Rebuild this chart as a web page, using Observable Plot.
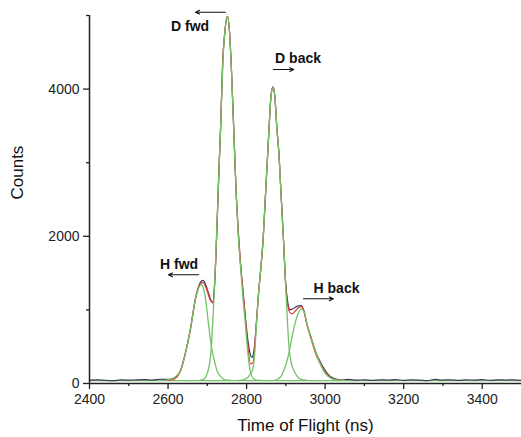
<!DOCTYPE html>
<html>
<head>
<meta charset="utf-8">
<script src="https://cdn.jsdelivr.net/npm/d3@7"></script>
<script src="https://cdn.jsdelivr.net/npm/@observablehq/plot@0.6"></script>
<style>
  html, body { margin: 0; padding: 0; background: #fff; }
  #chart { width: 521px; height: 437px; }
</style>
</head>
<body>
<div id="chart"></div>
<script>
// Measured spectrum (time of flight, ns) and counts
const dataT = [2400,2420,2440,2460,2480,2500,2520,2540,2560,2580,2600,2610,2620,2632,2644,2657,2670,2680,2689,2696,2703,2709,2714,2718,2722,2726,2730,2734,2739,2745,2751,2756,2761,2767,2773,2779,2785,2791,2797,2803,2808,2813,2818,2824,2830,2836,2842,2847,2852,2857,2862,2867,2872,2877,2882,2888,2894,2899,2905,2911,2918,2925,2932,2939,2946,2954,2961,2968,2976,2988,3000,3010,3020,3031,3045,3060,3080,3100,3120,3140,3160,3180,3200,3220,3240,3260,3280,3300,3320,3340,3360,3380,3400,3420,3440,3460,3480,3500];
const dataC = [45,50,42,38,48,45,50,52,45,58,55,65,90,180,410,740,1160,1350,1400,1340,1230,1130,1095,1300,1750,2350,2950,3500,4350,4800,4990,4820,4320,3500,2650,2050,1600,1250,900,600,430,355,420,750,1200,1550,1950,2450,2950,3450,3900,4030,3900,3480,3150,2550,1950,1400,1100,1000,1015,1040,1055,1060,990,800,680,560,430,290,180,110,75,55,48,55,45,50,42,50,46,54,42,50,46,40,55,46,50,42,50,45,54,42,50,46,50,42];

// Cumulative fit (red)
const fitT = [2600,2615,2632,2644,2657,2670,2680,2688,2696,2703,2709,2714,2718,2722,2726,2730,2734,2739,2745,2751,2756,2761,2767,2773,2779,2785,2791,2797,2803,2810,2816,2824,2830,2836,2842,2847,2852,2857,2862,2867,2872,2877,2882,2888,2894,2899,2905,2911,2916,2922,2930,2939,2946,2954,2961,2968,2976,2988,3000,3010,3020,3031,3045];
const fitC = [42,55,178,405,740,1150,1330,1375,1310,1200,1120,1110,1300,1750,2350,2950,3500,4350,4800,4990,4820,4320,3500,2650,2050,1600,1240,870,520,267,280,750,1200,1550,1950,2450,2950,3450,3900,4030,3900,3480,3150,2550,1950,1390,1060,960,947,975,1020,1045,985,790,665,540,405,265,150,95,62,48,42];

// Fitted peak components (green)
const hFwdT = [2590,2605,2620,2632,2644,2657,2670,2684,2694,2704,2710,2717,2725,2733,2745,2760];
const hFwdC = [42,55,95,177,403,740,1150,1345,1200,765,520,330,170,100,50,42];
const dFwdT = [2680,2690,2697,2705,2710,2714,2717,2721,2726,2730,2735,2740,2745,2751,2756,2761,2767,2773,2779,2785,2791,2797,2803,2810,2817,2826,2840];
const dFwdC = [42,55,100,250,470,850,1150,1670,2350,2950,3650,4400,4800,4980,4810,4310,3490,2640,2000,1550,1150,800,430,150,70,46,42];
const dBackT = [2780,2792,2800,2806,2810,2815,2820,2826,2831,2836,2842,2847,2852,2857,2862,2867,2872,2877,2882,2888,2894,2899,2903,2908,2913,2921,2930,2940,2955];
const dBackC = [42,50,70,100,133,180,360,880,1250,1550,1950,2450,2950,3450,3900,4020,3900,3470,3140,2540,1940,1390,950,500,300,170,90,55,42];
const hBackT = [2870,2880,2888,2895,2902,2908,2913,2918,2925,2932,2940,2947,2955,2963,2970,2978,2988,2998,3008,3020,3035,3050];
const hBackC = [42,60,100,180,290,420,560,690,850,960,1010,960,780,650,530,400,260,155,95,60,46,42];
const baseT = [2400,3500];
const baseC = [40,40];

// Axis ticks
const xMajor = [2400,2600,2800,3000,3200,3400];
const xMinor = [2500,2700,2900,3100,3300];
const yMajor = [0,2000,4000];
const yMinor = [1000,3000,5000];

// Annotations
const noteText = ["D fwd","D back","H fwd","H back"];
const noteX = [2656,2931,2628,3029];
const noteY = [4857,4416,1617,1291];
const arrowX1 = [2746,2868,2678,2945];
const arrowX2 = [2670,2920,2601,3021];
const arrowY = [5045,4266,1477,1151];

const toRows = (T, C) => T.map((t, i) => ({t, c: C[i]}));
const notes = noteText.map((s, i) => ({s, x: noteX[i], y: noteY[i]}));
const arrows = arrowX1.map((x1, i) => ({x1, x2: arrowX2[i], y: arrowY[i]}));

const green = "#74c267";
const comps = [[hFwdT,hFwdC],[dFwdT,dFwdC],[dBackT,dBackC],[hBackT,hBackC]];

const chart = Plot.plot({
  width: 521,
  height: 437,
  marginLeft: 89,
  marginRight: 0,
  marginTop: 15,
  marginBottom: 54,
  style: {fontFamily: "'Liberation Sans', Arial, sans-serif", fontSize: "14px", color: "#222", background: "#fff"},
  x: {domain: [2400, 3500]},
  y: {domain: [0, 5000]},
  marks: [
    Plot.line(toRows(baseT, baseC), {x: "t", y: "c", stroke: green, strokeWidth: 1.3}),
    Plot.line(toRows(dataT, dataC), {x: "t", y: "c", stroke: "#3b3b55", strokeWidth: 1.2, curve: "monotone-x"}),
    Plot.line(toRows(fitT, fitC), {x: "t", y: "c", stroke: "#e23b3b", strokeWidth: 1.2, curve: "monotone-x"}),
    ...comps.map(([T, C]) => Plot.line(toRows(T, C), {x: "t", y: "c", stroke: green, strokeWidth: 1.3, curve: "monotone-x"})),
    Plot.ruleX([2400], {y1: 0, y2: 5000, stroke: "#222", strokeWidth: 1.5}),
    Plot.ruleY([0], {x1: 2400, x2: 3500, stroke: "#222", strokeWidth: 1.5}),
    Plot.axisX({ticks: xMajor, tickSize: 6, tickPadding: 5, fontSize: 14, stroke: "#222", strokeWidth: 1.3, label: null, tickFormat: d => String(d)}),
    Plot.axisX({ticks: xMinor, tickSize: 3, stroke: "#222", strokeWidth: 1.3, label: null, tickFormat: () => ""}),
    Plot.axisY({ticks: yMajor, tickSize: 6, tickPadding: 4, fontSize: 14, stroke: "#222", strokeWidth: 1.3, label: null, tickFormat: d => String(d)}),
    Plot.axisY({ticks: yMinor, tickSize: 3, stroke: "#222", strokeWidth: 1.3, label: null, tickFormat: () => ""}),
    Plot.text(["Counts"], {frameAnchor: "left", dx: -72, rotate: -90, fontSize: 17, fill: "#111"}),
    Plot.text(["Time of Flight (ns)"], {frameAnchor: "bottom", dy: 47, fontSize: 17, fill: "#111"}),
    Plot.text(notes, {x: "x", y: "y", text: "s", fontSize: 14, fontWeight: "bold", fill: "#111"}),
    Plot.arrow(arrows, {x1: "x1", x2: "x2", y1: "y", y2: "y", stroke: "#111", strokeWidth: 1.1, headLength: 6, headAngle: 50})
  ]
});
document.getElementById("chart").appendChild(chart);
</script>
</body>
</html>
